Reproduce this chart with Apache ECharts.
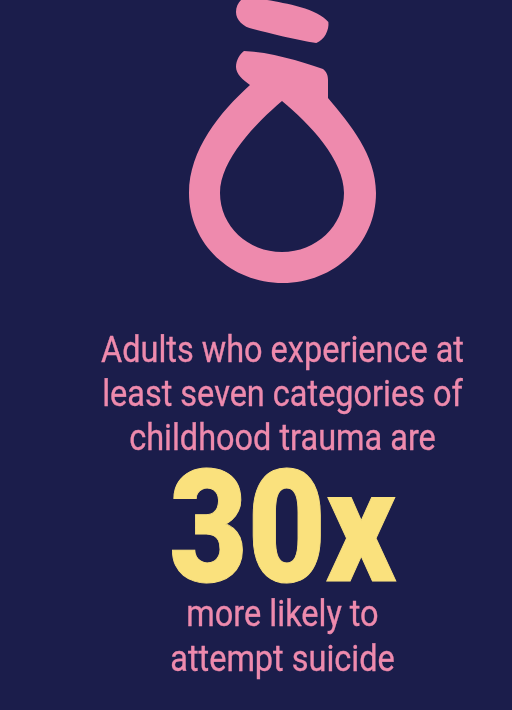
<!DOCTYPE html>
<html><head><meta charset="utf-8">
<style>html,body{margin:0;padding:0;background:#1b1d4b}#c{width:512px;height:710px}</style>
<script src="https://cdn.jsdelivr.net/npm/echarts@6/dist/echarts.min.js"></script>
</head><body><div id="c"></div>
<script>
const introLines = ['Adults who experience at', 'least seven categories of', 'childhood trauma are'];
const multiplier = '30x';
const outroLines = ['more likely to', 'attempt suicide'];
const PINK = '#ee8aad', YELLOW = '#fae17d', BG = '#1b1d4b';
const FONT = 'Roboto';
const nooseTop = 'M241 0 L267 0 C285 3 318 9 328 22 C329 30 324 40 316 43 C295 40 270 33 253 29 C243 27 236 20 236 12 C236 7 238 3 241 0 Z';
const nooseRing = 'M244 51 C270 52 300 61 323 69 C327 72 328 76 328 80 L328 98 C350 124 376 155 376 193 C376 244 334 283 283 283 C231 283 189 244 189 193 C189 150 220 112 250 85 C243 80 236 74 236 67 C236 60 240 54 244 51 Z '
  + 'M282 101 C256 123 220 160 220 193 C220 226 248 252 282 252 C316 252 344 226 344 193 C344 160 310 124 282 101 Z';
const chart = echarts.init(document.getElementById('c'), null, {renderer: 'canvas'});
function line(text, base, size, weight, fill, sx, sw) {
  return {type: 'text', x: 282.5, y: base - 0.78 * size, scaleX: sx, silent: true,
    style: {text: text, x: 0, y: 0, align: 'center', verticalAlign: 'top',
      font: weight + ' ' + size + 'px ' + FONT, fill: fill, stroke: fill, lineWidth: sw}};
}
const S = 0.902;
const THIN = 0.35;
chart.setOption({
  backgroundColor: BG,
  animation: false,
  series: [{
    type: 'custom', coordinateSystem: 'none', silent: true, data: [[0]],
    renderItem: function () {
      return {type: 'group', children: [
        {type: 'path', shape: {pathData: nooseTop, layout: 'cover', x: 236, y: 0, width: 92.5, height: 43}, style: {fill: PINK}},
        {type: 'path', shape: {pathData: nooseRing, layout: 'cover', x: 189, y: 51, width: 187, height: 232}, style: {fill: PINK, fillRule: 'evenodd'}}
      ]};
    }
  }],
  graphic: {elements: [
    line(introLines[0], 363, 36, 400, PINK, S, THIN),
    line(introLines[1], 407, 36, 400, PINK, S, THIN),
    line(introLines[2], 451, 36, 400, PINK, S, THIN),
    line(multiplier, 586, 158, 900, YELLOW, 0.857, 1),
    line(outroLines[0], 627, 36, 400, PINK, S, THIN),
    line(outroLines[1], 672, 36, 400, PINK, S, THIN)
  ]}
});
</script></body></html>
